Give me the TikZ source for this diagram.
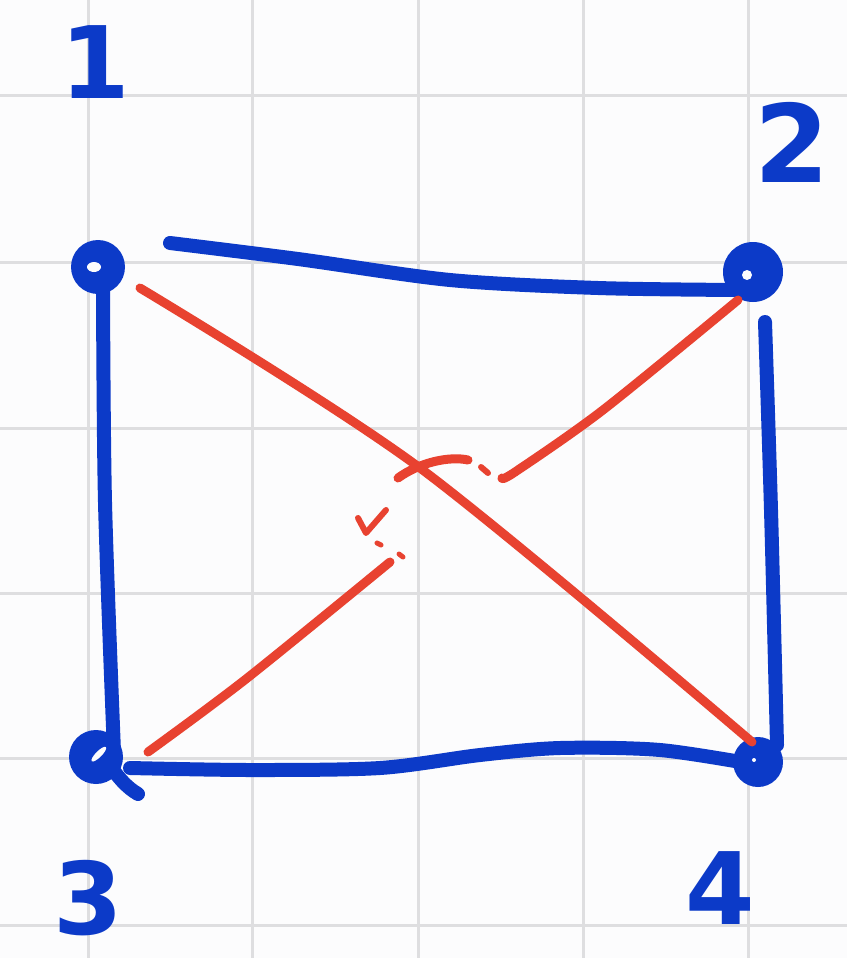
\documentclass[tikz,border=0pt]{standalone}
\usepackage{fontspec}
\setmainfont{DejaVu Sans}
\usetikzlibrary{calc}
\definecolor{pen}{RGB}{12,58,200}
\definecolor{ink}{RGB}{232,66,48}
\definecolor{gridc}{RGB}{222,222,224}
\definecolor{paper}{RGB}{252,252,253}
\tikzset{
  gridline/.style={gridc,line width=3pt},
  vtx/.style={circle,fill=pen,minimum size=54pt,inner sep=0pt},
  hole/.style={fill=paper},
  blueedge/.style={pen,line width=14pt,line cap=round,line join=round},
  rededge/.style={ink,line width=9pt,line cap=round,line join=round},
  numlabel/.style={text=pen,font=\bfseries\fontsize{100}{100}\selectfont,inner sep=0pt}
}
\begin{document}
\begin{tikzpicture}[x=1pt,y=-1pt]
\fill[paper] (0,0) rectangle (847,958);
\useasboundingbox (0,0) rectangle (847,958);
% grid
\foreach \gx in {88,252,418,583,748} \draw[gridline] (\gx,0) -- (\gx,958);
\foreach \gy in {95,262,428,593,758,925} \draw[gridline] (0,\gy) -- (847,\gy);
% labels
\node[numlabel] (l1) at (95,62) {1};
\node[numlabel,font=\bfseries\fontsize{108}{108}\selectfont] (l2) at (792,142) {2};
\node[numlabel] (l3) at (88,898) {3};
\node[numlabel] (l4) at (720,888) {4};
% vertices
\node[vtx] (v1) at (98,267) {};
\node[vtx,minimum size=60pt] (v2) at (753,272) {};
\node[vtx] (v3) at (96,757) {};
\node[vtx,minimum size=50pt] (v4) at (758,762) {};
% blue edges
\draw[blueedge] plot[smooth] coordinates {($(v1)+(72,-24)$) ($(v1)+(200,-8)$) ($(v1)+(352,13)$) ($(v1)+(500,21)$) ($(v2)+(-15,18)$)};
\draw[blueedge] plot[smooth] coordinates {($(v1)+(5,20)$) ($(v1)+(7,235)$) ($(v3)+(18,-5)$)};
\draw[blueedge] plot[smooth] coordinates {($(v2)+(12,50)$) ($(v2)+(18,238)$) ($(v4)+(19,-17)$)};
\draw[blueedge] plot[smooth] coordinates {($(v3)+(34,11)$) ($(v3)+(154,13)$) ($(v3)+(284,11)$) ($(v3)+(384,-2)$) ($(v3)+(464,-9)$) ($(v3)+(564,-7)$) ($(v4)+(0,3)$)};
\draw[blueedge] ($(v3)+(12,6)$) .. controls ($(v3)+(22,20)$) and ($(v3)+(30,30)$) .. ($(v3)+(42,37)$);
% vertex holes
\fill[hole] ($(v1)+(-4,0)$) ellipse (7 and 5);
\fill[hole] ($(v2)+(-6,3)$) circle (5);
\fill[hole,rotate around={45:(v3)}] ($(v3)+(4,0)$) ellipse (10 and 3);
\fill[hole] ($(v4)+(-4,-2)$) circle (2);
% red edges
\draw[rededge] plot[smooth] coordinates {($(v1)+(42,21)$) ($(v1)+(322,201)$) ($(v4)+(-6,-20)$)};
\draw[rededge] plot[smooth] coordinates {($(v3)+(52,-5)$) ($(v3)+(150,-78)$) ($(v3)+(294,-195)$)};
\draw[rededge] plot[smooth] coordinates {($(v2)+(-251,206)$) ($(v2)+(-238,200)$) ($(v2)+(-150,138)$) ($(v2)+(-15,28)$)};
% crossing bits
\draw[rededge] (398,478) .. controls (420,462) and (450,456) .. (468,460);
\draw[rededge,line width=6pt] (481,467) -- (488,473);
\draw[rededge,line width=6pt] (358,518) -- (366,533) -- (386,510);
\draw[rededge,line width=5pt] (377,543) -- (381,545);
\draw[rededge,line width=5pt] (399,554) -- (403,557);
\end{tikzpicture}
\end{document}
